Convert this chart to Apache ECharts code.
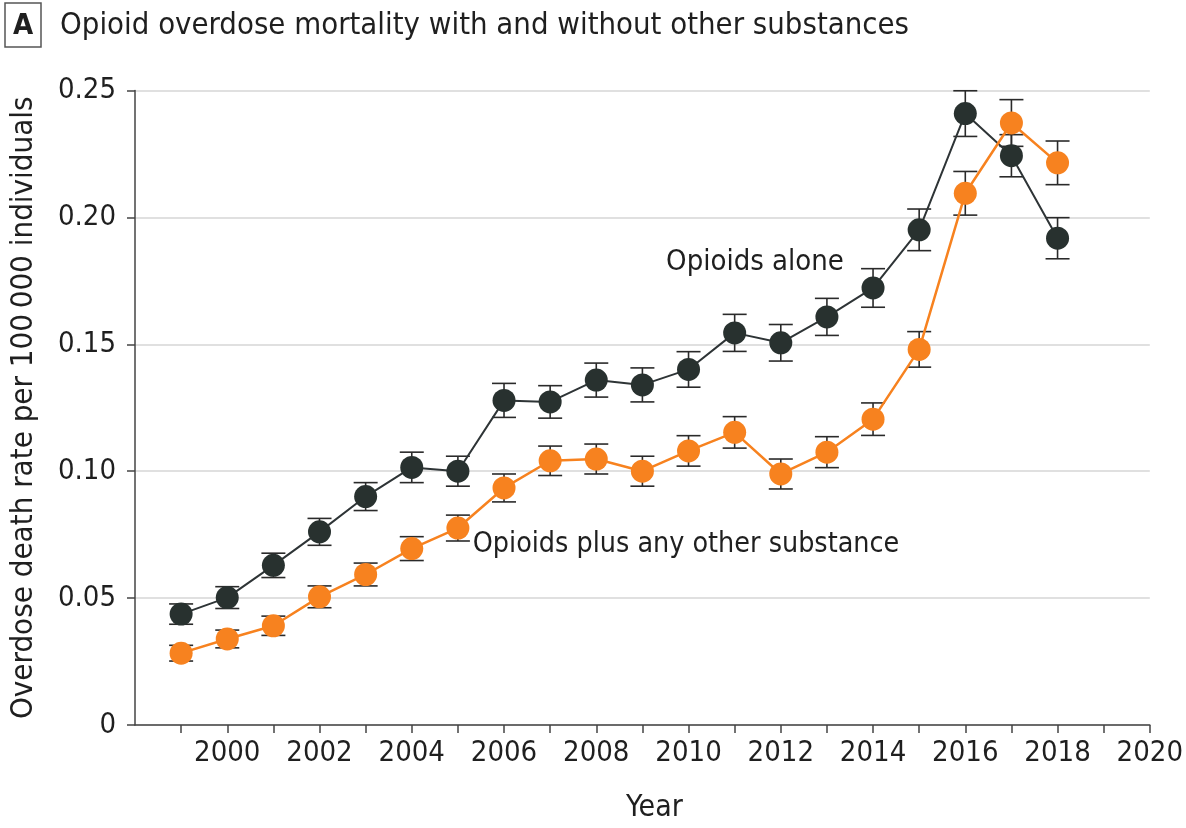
<!DOCTYPE html>
<html>
<head>
<meta charset="utf-8">
<script src="https://cdn.jsdelivr.net/npm/echarts@6/dist/echarts.min.js"></script>
<style>
  html, body { margin: 0; padding: 0; background: #fff; }
  #chart { width: 1186px; height: 828px; }
</style>
</head>
<body>
<div id="chart"></div>
<script>
// Survey years
var years = [1999, 2000, 2001, 2002, 2003, 2004, 2005, 2006, 2007, 2008,
             2009, 2010, 2011, 2012, 2013, 2014, 2015, 2016, 2017, 2018];

// Opioids alone: rate and 95% CI half-width
var aloneRate = [0.0437, 0.0502, 0.0629, 0.0761, 0.0900, 0.1015, 0.1000, 0.1279, 0.1273, 0.1359,
                 0.1340, 0.1401, 0.1545, 0.1506, 0.1608, 0.1722, 0.1951, 0.2409, 0.2243, 0.1918];
var aloneCI   = [0.0040, 0.0043, 0.0048, 0.0053, 0.0055, 0.0060, 0.0059, 0.0067, 0.0064, 0.0067,
                 0.0067, 0.0070, 0.0073, 0.0072, 0.0073, 0.0076, 0.0082, 0.0090, 0.0083, 0.0081];

// Opioids plus any other substance: rate and 95% CI half-width
var plusRate = [0.0283, 0.0339, 0.0391, 0.0505, 0.0593, 0.0695, 0.0776, 0.0934, 0.1041, 0.1048,
                0.1000, 0.1080, 0.1153, 0.0989, 0.1075, 0.1205, 0.1480, 0.2095, 0.2372, 0.2215];
var plusCI   = [0.0031, 0.0035, 0.0038, 0.0043, 0.0045, 0.0047, 0.0051, 0.0055, 0.0058, 0.0059,
                0.0059, 0.0060, 0.0062, 0.0059, 0.0061, 0.0064, 0.0070, 0.0086, 0.0092, 0.0086];

// Axis ticks and labels
var xTickYears  = [1999, 2000, 2001, 2002, 2003, 2004, 2005, 2006, 2007, 2008, 2009,
                   2010, 2011, 2012, 2013, 2014, 2015, 2016, 2017, 2018, 2019, 2020];
var xLabelYears = [2000, 2002, 2004, 2006, 2008, 2010, 2012, 2014, 2016, 2018, 2020];

var titleText = 'Opioid overdose mortality with and without other substances';
var yAxisTitle = 'Overdose death rate per 100\u2009000 individuals';
var labelAlone = 'Opioids alone';
var labelPlus = 'Opioids plus any other substance';

var FONT = '"DejaVu Sans Condensed", "Liberation Sans", sans-serif';
var INK = '#1f1f1f';
var DARK = '#28312f';
var ORANGE = '#f7821f';

function pairs(xs, ys) { return xs.map(function (x, i) { return [x, ys[i]]; }); }
function ciData(xs, ys, hs) { return xs.map(function (x, i) { return [x, ys[i] - hs[i], ys[i] + hs[i]]; }); }

function renderErrorBar(params, api) {
  var x = api.value(0);
  var lo = api.coord([x, api.value(1)]);
  var hi = api.coord([x, api.value(2)]);
  var cap = 12;
  var style = { stroke: '#2a2a2a', lineWidth: 1.6 };
  return {
    type: 'group',
    children: [
      { type: 'line', shape: { x1: lo[0], y1: lo[1], x2: hi[0], y2: hi[1] }, style: style },
      { type: 'line', shape: { x1: lo[0] - cap, y1: lo[1], x2: lo[0] + cap, y2: lo[1] }, style: style },
      { type: 'line', shape: { x1: hi[0] - cap, y1: hi[1], x2: hi[0] + cap, y2: hi[1] }, style: style }
    ]
  };
}

var chart = echarts.init(document.getElementById('chart'), null, { renderer: 'canvas' });

chart.setOption({
  animation: false,
  backgroundColor: '#ffffff',
  grid: { left: 131, right: 36, top: 90.5, bottom: 101, containLabel: false },
  graphic: [
    { type: 'rect', shape: { x: 5, y: 3, width: 36, height: 44 },
      style: { fill: '#fff', stroke: '#555', lineWidth: 1.5 } },
    { type: 'text', x: 23, y: 26,
      style: { text: 'A', font: 'bold 29px ' + FONT, fill: INK, align: 'center', verticalAlign: 'middle' } },
    { type: 'text', x: 60, y: 26,
      style: { text: titleText, font: '30.8px ' + FONT, fill: INK, align: 'left', verticalAlign: 'middle' } },
    { type: 'text', x: 755, y: 262,
      style: { text: labelAlone, font: '29px ' + FONT, fill: INK, align: 'center', verticalAlign: 'middle' } },
    { type: 'text', x: 686, y: 545,
      style: { text: labelPlus, font: '28.4px ' + FONT, fill: INK, align: 'center', verticalAlign: 'middle' } }
  ],
  xAxis: {
    type: 'value',
    min: 1998, max: 2020, interval: 1,
    name: 'Year',
    nameLocation: 'middle',
    nameGap: 68,
    nameTextStyle: { fontFamily: FONT, fontSize: 30, color: INK, padding: [0, 0, 0, 24] },
    axisLine: { show: true, onZero: false, lineStyle: { color: '#444', width: 1.5 } },
    axisTick: { show: true, length: 8, lineStyle: { color: '#444', width: 1.5 }, customValues: xTickYears },
    axisLabel: {
      customValues: xLabelYears, margin: 14, fontFamily: FONT, fontSize: 29, color: INK,
      formatter: function (v) { return String(v); }
    },
    splitLine: { show: false }
  },
  yAxis: {
    type: 'value',
    min: 0, max: 0.25, interval: 0.05,
    name: yAxisTitle,
    nameLocation: 'middle',
    nameGap: 96,
    nameRotate: 90,
    nameTextStyle: { fontFamily: FONT, fontSize: 31, color: INK },
    axisLine: { show: true, lineStyle: { color: '#444', width: 1.5 } },
    axisTick: { show: true, length: 8, lineStyle: { color: '#444', width: 1.5 } },
    axisLabel: {
      margin: 19, fontFamily: FONT, fontSize: 29, color: INK,
      formatter: function (v) { return v === 0 ? '0' : v.toFixed(2); }
    },
    splitLine: { show: true, lineStyle: { color: '#d6d6d6', width: 1.5 } }
  },
  series: [
    { name: 'alone-ci', type: 'custom', data: ciData(years, aloneRate, aloneCI),
      renderItem: renderErrorBar, z: 1, silent: true },
    { name: 'plus-ci', type: 'custom', data: ciData(years, plusRate, plusCI),
      renderItem: renderErrorBar, z: 1, silent: true },
    { name: labelAlone, type: 'line', data: pairs(years, aloneRate), z: 3,
      symbol: 'circle', symbolSize: 23,
      itemStyle: { color: DARK },
      lineStyle: { color: '#2e3436', width: 2 } },
    { name: labelPlus, type: 'line', data: pairs(years, plusRate), z: 4,
      symbol: 'circle', symbolSize: 23,
      itemStyle: { color: ORANGE },
      lineStyle: { color: ORANGE, width: 2.5 } }
  ]
});
</script>
</body>
</html>
